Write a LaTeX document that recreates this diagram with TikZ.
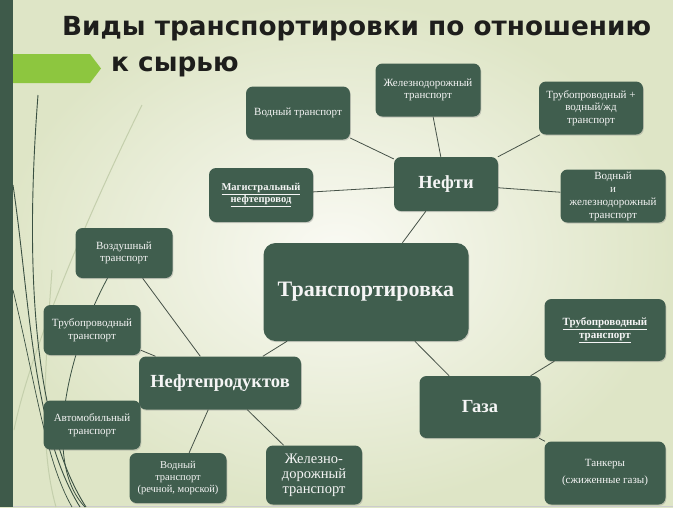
\documentclass[tikz,border=0pt]{standalone}
\usepackage{fontspec}
\setmainfont{Liberation Serif}
\newfontfamily\nodefont{Liberation Serif}
\newfontfamily\titlefont{DejaVu Sans}
\usetikzlibrary{shadows}
\definecolor{nodegreen}{RGB}{64,94,78}
\definecolor{bargreen}{RGB}{62,90,74}
\definecolor{arrowgreen}{RGB}{141,198,63}
\definecolor{linecol}{RGB}{70,82,72}
\definecolor{bgin}{RGB}{250,250,244}
\definecolor{bgout}{RGB}{222,229,198}
\definecolor{wispdark}{RGB}{58,80,66}
\definecolor{wisplight}{RGB}{196,207,172}
\definecolor{titlecol}{RGB}{30,30,28}
\begin{document}
\begin{tikzpicture}[x=1pt,y=-1pt,
  box/.style={fill=nodegreen, rounded corners=7pt, text=white!96!black, align=center,
    inner sep=2pt, font=\nodefont\fontsize{11}{12.5}\selectfont,
    drop shadow={shadow xshift=0.8pt, shadow yshift=-1.2pt, opacity=0.35}},
  bigtext/.style={font=\nodefont\bfseries\fontsize{18.5}{20}\selectfont},
  link/.style={draw=linecol, line width=0.8pt},
  wispd/.style={draw=wispdark, line width=0.9pt},
  wispl/.style={draw=wisplight, line width=1pt},
  titletext/.style={anchor=base west, inner sep=0pt, text=titlecol, font=\titlefont\bfseries\fontsize{26.3}{30}\selectfont}
]
\useasboundingbox (0,0) rectangle (673,507);
% background
\shade[inner color=bgin, outer color=bgout] (0,0) rectangle (673,507);
\draw[gray!40, line width=0.8pt] (0,506.5) -- (673,506.5);
% left bar
\fill[bargreen] (0,0) rectangle (13,507);
% wisp decoration
\draw[wispl] (142,105) .. controls (90,210) and (30,350) .. (14,430);
\draw[wispl] (52,270) .. controls (44,380) and (40,450) .. (56,507);
\draw[wispd] (38,95) .. controls (26,250) and (30,420) .. (86,507);
\draw[wispd] (13,185) .. controls (30,300) and (32,430) .. (80,507);
\draw[wispd, line width=0.7pt] (13,290) .. controls (35,380) and (45,460) .. (72,507);
\draw[wispd, line width=0.8pt] (115,265) .. controls (70,340) and (40,460) .. (85,507);
% arrow
\fill[arrowgreen] (13,54) -- (90,54) -- (101,68.5) -- (90,83) -- (13,83) -- cycle;
% title
\node[titletext] (t1) at (62,35) {Виды транспортировки по отношению};
\node[titletext] (t2) at (111,71) {к сырью};

% nodes
\node[box, minimum width=104pt, minimum height=53pt] (vodn1) at (298,113) {Водный транспорт};
\node[box, minimum width=105pt, minimum height=53pt] (zhd1) at (428,90) {Железнодорожный\\транспорт};
\node[box, minimum width=104pt, minimum height=53pt] (trub1) at (591,108) {Трубопроводный +\\водный/жд\\транспорт};
\node[box, bigtext, minimum width=104pt, minimum height=54pt] (nefti) at (446,184) {Нефти};
\node[box, font=\nodefont\bfseries\fontsize{10.5}{12.5}\selectfont, minimum width=104pt, minimum height=54pt] (magist) at (261,195) {\underline{Магистральный}\\\underline{нефтепровод}};
\node[box, minimum width=105pt, minimum height=53pt, font=\nodefont\fontsize{11}{13}\selectfont] (vodzhd) at (613,196) {Водный\\и\\железнодорожный\\транспорт};
\node[box, font=\nodefont\bfseries\fontsize{22}{24}\selectfont, minimum width=205pt, minimum height=98pt, rounded corners=12pt] (trans) at (366,292) {Транспортировка};
\node[box, minimum width=97pt, minimum height=50pt] (vozd) at (124,253) {Воздушный\\транспорт};
\node[box, minimum width=97pt, minimum height=50pt] (trub2) at (92,330) {Трубопроводный\\транспорт};
\node[box, bigtext, minimum width=162pt, minimum height=53pt] (nprod) at (220,383) {Нефтепродуктов};
\node[box, minimum width=97pt, minimum height=49pt] (avto) at (92,425) {Автомобильный\\транспорт};
\node[box, minimum width=97pt, minimum height=50pt, font=\nodefont\fontsize{10.5}{12}\selectfont] (vodn2) at (178,478) {Водный\\транспорт\\(речной, морской)};
\node[box, font=\nodefont\fontsize{14.5}{15}\selectfont, minimum width=96pt, minimum height=59pt] (zhd2) at (314,475) {Железно-\\дорожный\\транспорт};
\node[box, bigtext, minimum width=121pt, minimum height=62pt] (gaz) at (480,407) {Газа};
\node[box, font=\nodefont\bfseries\fontsize{11}{13.5}\selectfont, minimum width=121pt, minimum height=62pt] (trub3) at (605,330) {\underline{Трубопроводный}\\\underline{транспорт}};
\node[box, minimum width=121pt, minimum height=63pt, font=\nodefont\fontsize{11}{17}\selectfont] (tank) at (605,473) {Танкеры\\(сжиженные газы)};

% connectors
\draw[link] (nefti) -- (vodn1);
\draw[link] (nefti) -- (zhd1);
\draw[link] (nefti) -- (trub1);
\draw[link] (nefti) -- (magist);
\draw[link] (nefti) -- (vodzhd);
\draw[link] (nefti) -- (trans);
\draw[link] (trans) -- (nprod);
\draw[link] (trans) -- (gaz);
\draw[link] (nprod) -- (vozd);
\draw[link] (nprod) -- (trub2);
\draw[link] (nprod) -- (vodn2);
\draw[link] (nprod) -- (zhd2);
\draw[link] (gaz) -- (trub3);
\draw[link] (gaz) -- (tank);
\end{tikzpicture}
\end{document}
